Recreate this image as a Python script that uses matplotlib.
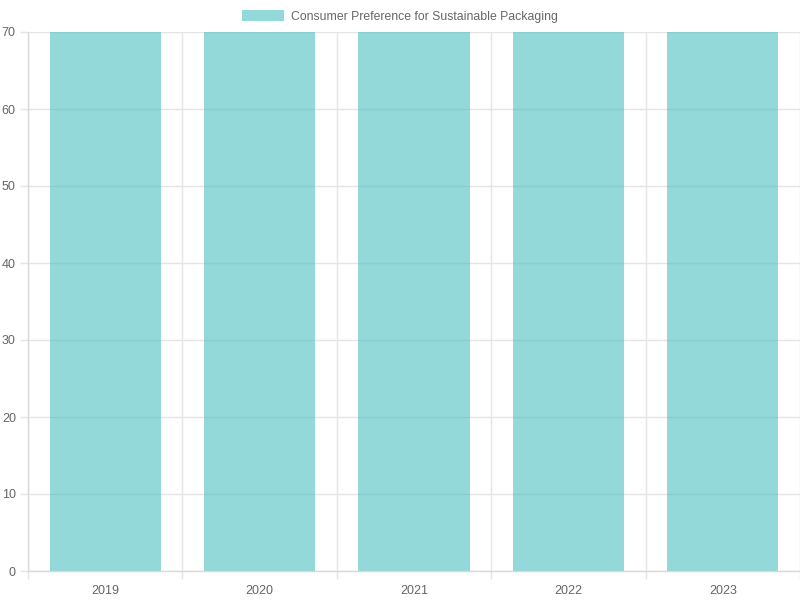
import numpy as np
import matplotlib
matplotlib.use("Agg")
import matplotlib.pyplot as plt

plt.rcParams['font.family'] = ['Liberation Sans', 'DejaVu Sans']

years = ['2019', '2020', '2021', '2022', '2023']
# every bar runs past the 70 top of the axis, so only ">= 70" can be read
preference = [70, 70, 70, 70, 70]
series_label = 'Consumer Preference for Sustainable Packaging'
y_ticks = [0, 10, 20, 30, 40, 50, 60, 70]

fill = (75/255, 192/255, 192/255, 0.6)
grid_c = '#e5e5e5'
text_c = '#666666'

fig = plt.figure(figsize=(8, 6), dpi=100)
ax = fig.add_axes([28/800, 29/600, 772/800, 539/600])
ax.set_axisbelow(True)

x = np.arange(len(years))
ax.bar(x, preference, width=0.72, color=fill, linewidth=0,
       label=series_label, zorder=2)

ax.set_xlim(-0.5, len(years) - 0.5)
ax.set_ylim(0, 70)
ax.set_yticks(y_ticks)
ax.set_xticks(x)
ax.set_xticklabels(years)
ax.set_xticks(np.arange(len(years) + 1) - 0.5, minor=True)

ax.grid(axis='y', which='major', color=grid_c, linewidth=1)
ax.grid(axis='x', which='minor', color=grid_c, linewidth=1)

for s in ['top', 'right']:
    ax.spines[s].set_visible(False)
for s in ['left', 'bottom']:
    ax.spines[s].set_color('#d9d9d9')
    ax.spines[s].set_linewidth(1)

ax.tick_params(axis='x', which='major', length=0, pad=10, labelsize=9, labelcolor=text_c)
ax.tick_params(axis='x', which='minor', length=8 * 0.72, color=grid_c, width=1)
ax.tick_params(axis='y', which='major', length=8 * 0.72, color=grid_c, width=1,
               pad=3, labelsize=9, labelcolor=text_c)

leg = fig.legend(loc='upper center', bbox_to_anchor=(0.5, 1.0), frameon=False,
                 fontsize=8.8, handlelength=3.4, handleheight=0.9, handletextpad=0.6,
                 borderaxespad=0.45)
for t in leg.get_texts():
    t.set_color(text_c)

fig.savefig('out.png', dpi=100)
